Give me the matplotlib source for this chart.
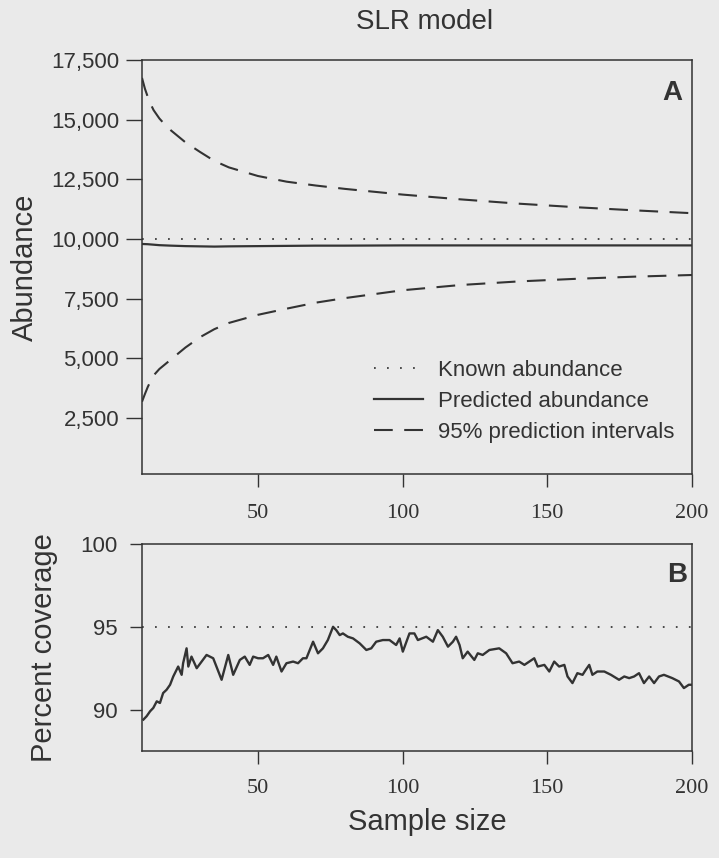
import numpy as np
import matplotlib.pyplot as plt

plt.rcParams['font.family'] = ['Liberation Sans', 'DejaVu Sans']

# --- panel A : abundance vs sample size
sample_pi = [10, 11, 12, 13, 14, 16, 18, 20, 25, 30, 35, 40, 50, 60, 70, 80,
             100, 120, 140, 160, 180, 200]
upper_pi = [16750, 16300, 15950, 15650, 15400, 15050, 14780, 14550, 14050, 13650,
            13270, 13000, 12640, 12400, 12240, 12100, 11860, 11660, 11480, 11330,
            11200, 11080]
lower_pi = [3180, 3500, 3800, 4050, 4280, 4550, 4750, 4950, 5450, 5880, 6220, 6480,
            6820, 7080, 7330, 7520, 7850, 8070, 8220, 8330, 8420, 8490]
predicted = [9790, 9785, 9780, 9770, 9760, 9740, 9730, 9720, 9700, 9690, 9680, 9690,
             9700, 9710, 9720, 9720, 9730, 9730, 9730, 9730, 9730, 9730]
known_abundance = 10000
abund_ticks = [2500, 5000, 7500, 10000, 12500, 15000, 17500]

# --- panel B : percent coverage vs sample size
cov_n = [10.5, 11.6, 12.8, 13.9, 15.1, 16.2, 17.3, 18.5, 19.7, 20.8, 22.5, 23.7, 24.2,
         25.4, 26.0, 27.1, 28.9, 32.3, 34.6, 37.5, 39.8, 41.5, 43.8, 45.5, 47.2, 48.4,
         50.1, 51.8, 53.6, 55.3, 56.4, 58.2, 59.9, 62.2, 63.9, 65.6, 66.8, 69.1, 70.8,
         72.5, 74.2, 76.0, 77.1, 78.3, 79.4, 81.1, 82.9, 85.2, 87.5, 89.2, 90.9, 93.2,
         95.5, 97.8, 99.0, 100.1, 102.4, 104.1, 105.3, 108.2, 110.5, 112.2, 113.9, 115.7,
         117.4, 118.5, 119.7, 120.8, 122.5, 124.8, 126.0, 127.7, 130.0, 133.4, 135.8,
         138.0, 140.3, 142.1, 143.8, 145.5, 146.7, 149.0, 150.7, 152.4, 154.1, 155.9,
         157.0, 158.7, 160.4, 162.2, 163.3, 164.5, 165.6, 167.3, 169.7, 172.0, 174.8,
         176.6, 178.3, 180.0, 181.7, 183.4, 185.2, 186.9, 188.6, 190.3, 193.2, 195.5,
         197.2, 198.9, 200.0]
cov_pct = [89.4, 89.6, 89.9, 90.1, 90.5, 90.4, 91.0, 91.2, 91.5, 92.0, 92.6, 92.1, 92.8,
           93.7, 92.6, 93.2, 92.5, 93.3, 93.1, 91.8, 93.3, 92.1, 93.0, 93.2, 92.7, 93.2,
           93.1, 93.1, 93.3, 92.7, 93.2, 92.3, 92.8, 92.9, 92.8, 93.1, 93.1, 94.1, 93.4,
           93.7, 94.2, 95.0, 94.8, 94.5, 94.6, 94.4, 94.3, 94.0, 93.6, 93.7, 94.1, 94.2,
           94.2, 93.9, 94.3, 93.5, 94.6, 94.6, 94.2, 94.4, 94.1, 94.8, 94.4, 93.8,
           94.1, 94.4, 93.9, 93.1, 93.5, 93.0, 93.4, 93.3, 93.6, 93.7, 93.4,
           92.8, 92.9, 92.7, 92.9, 93.1, 92.6, 92.7, 92.3, 92.9, 92.6, 92.7,
           92.0, 91.6, 92.2, 92.1, 92.4, 92.7, 92.1, 92.3, 92.3, 92.1, 91.8,
           92.0, 91.9, 92.0, 92.2, 91.6, 92.0, 91.6, 92.0, 92.1, 91.9, 91.7,
           91.3, 91.5, 91.5]
nominal_cov = 95
cov_ticks = [90, 95, 100]

x_ticks = [50, 100, 150, 200]

bg = '#eaeaea'
ink = '#333333'
serif = ['Liberation Serif', 'DejaVu Serif']

fig = plt.figure(figsize=(7.19, 8.58), dpi=100)
fig.patch.set_facecolor(bg)

W, H = 719, 858
ax1 = fig.add_axes([142 / W, 1 - 474 / H, 550 / W, 414 / H])
ax2 = fig.add_axes([142 / W, 1 - 751 / H, 550 / W, 207 / H])

dash = (0, (9, 5.5))
dots = (0, (1, 6.5))

# panel A
ax1.plot(sample_pi, [known_abundance] * len(sample_pi), color=ink, lw=1.25,
         linestyle=dots, label='Known abundance')
ax1.plot(sample_pi, predicted, color=ink, lw=1.6, label='Predicted abundance')
ax1.plot(sample_pi, upper_pi, color=ink, lw=1.5, linestyle=dash,
         label='95% prediction intervals')
ax1.plot(sample_pi, lower_pi, color=ink, lw=1.5, linestyle=dash)
ax1.set_xlim(10, 200)
ax1.set_ylim(150, 17500)
ax1.set_yticks(abund_ticks, [f'{v:,}' for v in abund_ticks])
ax1.set_xticks(x_ticks, [str(v) for v in x_ticks], fontfamily=serif)
ax1.tick_params(axis='y', direction='out', length=11.5, pad=5, width=1.0,
                labelsize=16, color=ink, labelcolor=ink)
ax1.tick_params(axis='x', direction='out', length=9.5, pad=12, width=1.0,
                labelsize=16, color=ink, labelcolor=ink)

leg = ax1.legend(loc='upper left', bbox_to_anchor=(374 / W, 1 - 360 / H),
                 bbox_transform=fig.transFigure, frameon=False, fontsize=16,
                 handlelength=2.2, handletextpad=0.7, labelspacing=0.45,
                 borderpad=0, borderaxespad=0)
for t in leg.get_texts():
    t.set_color(ink)

# panel B
ax2.plot(cov_n, cov_pct, color=ink, lw=1.7)
ax2.plot([10, 200], [nominal_cov, nominal_cov], color=ink, lw=1.25, linestyle=dots)
ax2.set_xlim(10, 200)
ax2.set_ylim(87.5, 100)
ax2.set_yticks(cov_ticks, [str(v) for v in cov_ticks])
ax2.set_xticks(x_ticks, [str(v) for v in x_ticks], fontfamily=serif)
ax2.tick_params(axis='y', direction='out', length=8.5, pad=9, width=1.0,
                labelsize=16, color=ink, labelcolor=ink)
ax2.tick_params(axis='x', direction='out', length=9, pad=11, width=1.0,
                labelsize=16, color=ink, labelcolor=ink)

for ax in (ax1, ax2):
    ax.set_facecolor(bg)
    for s in ax.spines.values():
        s.set_color(ink)
        s.set_linewidth(1.1)

# labels
fig.text(425 / W, 1 - 22 / H, 'SLR model', ha='center', va='center', fontsize=20, color=ink)
fig.text(25 / W, 1 - 267 / H, 'Abundance', ha='center', va='center', rotation=90,
         fontsize=21, color=ink)
fig.text(44 / W, 1 - 648 / H, 'Percent coverage', ha='center', va='center', rotation=90,
         fontsize=21, color=ink)
fig.text(427 / W, 1 - 822 / H, 'Sample size', ha='center', va='center', fontsize=21, color=ink)
fig.text(672 / W, 1 - 93 / H, 'A', ha='center', va='center', fontsize=20,
         fontweight='bold', color=ink)
fig.text(677 / W, 1 - 575 / H, 'B', ha='center', va='center', fontsize=20,
         fontweight='bold', color=ink)

fig.savefig('out.png', dpi=100, facecolor=bg)
